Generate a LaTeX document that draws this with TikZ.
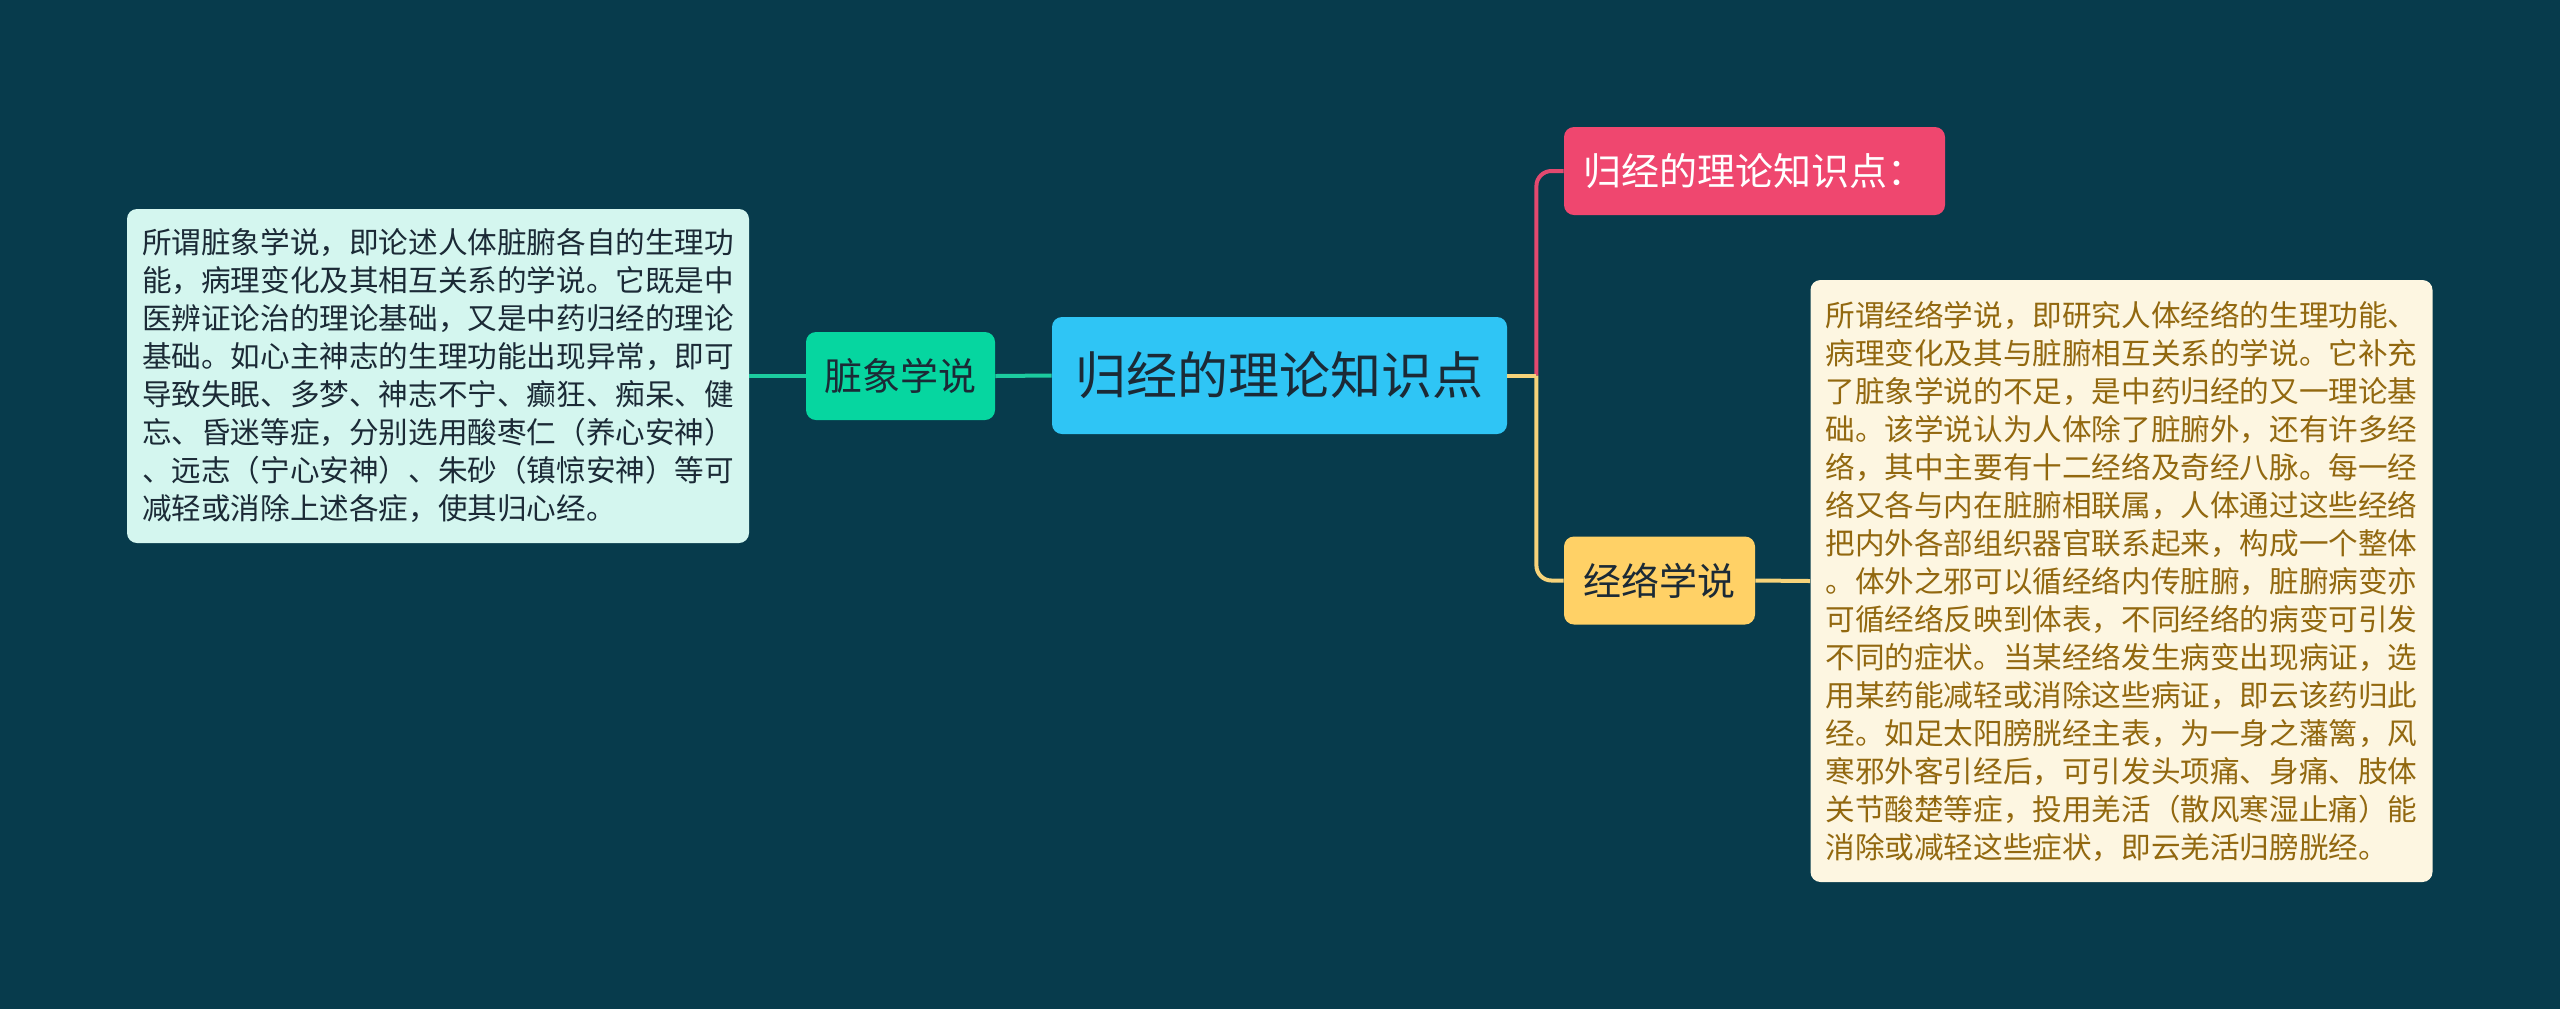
\documentclass[tikz,border=0pt]{standalone}
\usepackage{fontspec}
\newfontfamily\cjk{Noto Sans CJK SC}
\usetikzlibrary{calc}
\definecolor{bg}{HTML}{073B4C}
\definecolor{cenfill}{HTML}{2FC5F5}
\definecolor{grn}{HTML}{06D6A0}
\definecolor{pnk}{HTML}{EF476F}
\definecolor{ylw}{HTML}{FFD166}
\definecolor{mint}{HTML}{D4F6EF}
\definecolor{cream}{HTML}{FDF6E1}
\definecolor{darktxt}{HTML}{1B2A36}
\definecolor{browntxt}{HTML}{92680F}
\definecolor{lgrn}{HTML}{1CCB9F}
\definecolor{lpnk}{HTML}{E2496F}
\definecolor{lylw}{HTML}{F6D37A}
\tikzset{
  basebox/.style={rounded corners=5pt, inner sep=0pt, align=center},
  centralbox/.style={basebox, fill=cenfill, text=darktxt, minimum width=227.5pt, minimum height=58.5pt,
    font=\cjk\fontsize{25.5pt}{30pt}\selectfont},
  subbox/.style={basebox, minimum height=44pt, font=\cjk\fontsize{19pt}{23pt}\selectfont},
  notebox/.style={rounded corners=5pt, inner xsep=7.5pt, inner ysep=0pt, text width=296pt, align=left,
    font=\cjk\fontsize{14.8pt}{19pt}\selectfont},
  conn/.style={line width=2pt},
}
\begin{document}
\begin{tikzpicture}[x=0.5pt,y=-0.5pt]
\path[fill=bg] (0,0) rectangle (2560,1009);
\useasboundingbox (0,0) rectangle (2560,1009);

\node[centralbox] (central) at (1279.5,375.5) {归经的理论知识点};
\node[subbox, fill=grn, text=darktxt, minimum width=94.5pt] (zx) at (900.5,376) {脏象学说};
\node[subbox, fill=pnk, text=white, minimum width=190.5pt] (pk) at (1754.5,171) {归经的理论知识点：};
\node[subbox, fill=ylw, text=darktxt, minimum width=95.5pt] (jl) at (1659.5,580.5) {经络学说};

\node[notebox, fill=mint, text=darktxt, minimum height=167pt] (lbox) at (438,376) {所谓脏象学说，即论述人体脏腑各自的生理功\\
能，病理变化及其相互关系的学说。它既是中\\
医辨证论治的理论基础，又是中药归经的理论\\
基础。如心主神志的生理功能出现异常，即可\\
导致失眠、多梦、神志不宁、癫狂、痴呆、健\\
忘、昏迷等症，分别选用酸枣仁（养心安神）\\
、远志（宁心安神）、朱砂（镇惊安神）等可\\
减轻或消除上述各症，使其归心经。};

\node[notebox, fill=cream, text=browntxt, minimum height=301pt] (rbox) at (2121.5,581) {所谓经络学说，即研究人体经络的生理功能、\\
病理变化及其与脏腑相互关系的学说。它补充\\
了脏象学说的不足，是中药归经的又一理论基\\
础。该学说认为人体除了脏腑外，还有许多经\\
络，其中主要有十二经络及奇经八脉。每一经\\
络又各与内在脏腑相联属，人体通过这些经络\\
把内外各部组织器官联系起来，构成一个整体\\
。体外之邪可以循经络内传脏腑，脏腑病变亦\\
可循经络反映到体表，不同经络的病变可引发\\
不同的症状。当某经络发生病变出现病证，选\\
用某药能减轻或消除这些病证，即云该药归此\\
经。如足太阳膀胱经主表，为一身之藩篱，风\\
寒邪外客引经后，可引发头项痛、身痛、肢体\\
关节酸楚等症，投用羌活（散风寒湿止痛）能\\
消除或减轻这些症状，即云羌活归膀胱经。};

\coordinate (j) at ($(central.east)+(29,0)$);

\draw[conn, lgrn] (central.west) -- (zx.east);
\draw[conn, lgrn] (zx.west) -- (lbox.east);
\draw[conn, lpnk, rounded corners=7.5pt] (j) |- (pk.west);
\draw[conn, lylw] (central.east) -- (j);
\draw[conn, lylw, rounded corners=7.5pt] (j) |- (jl.west);
\draw[conn, lylw] (jl.east) -- (rbox.west);
\end{tikzpicture}
\end{document}
